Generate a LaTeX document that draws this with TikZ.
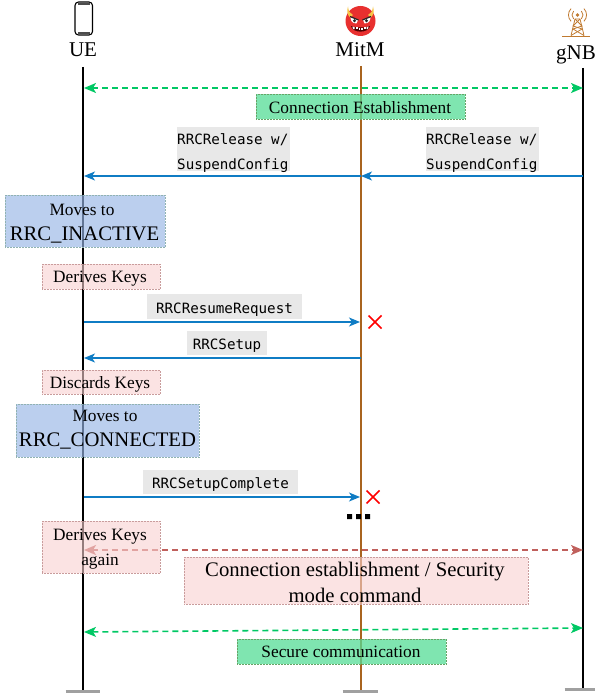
\documentclass[tikz,border=0pt]{standalone}
\usepackage{fontspec}
\setmainfont{Liberation Serif}
\setmonofont{DejaVu Sans Mono}
\usetikzlibrary{arrows.meta}
\definecolor{lifebrown}{HTML}{A9641F}
\definecolor{arrowblue}{HTML}{0F7CC4}
\definecolor{dashgreen}{HTML}{00C864}
\definecolor{dashred}{HTML}{C0605C}
\definecolor{footgray}{HTML}{A0A0A0}
\definecolor{labelgray}{HTML}{E8E8E8}
\definecolor{towerbrown}{HTML}{C07A30}
\definecolor{devilred}{HTML}{E8302F}
\definecolor{hornyellow}{HTML}{F6C445}
\definecolor{greenfill}{HTML}{54DC96}
\definecolor{pinkfill}{HTML}{F8D0D0}
\definecolor{bluefill}{HTML}{96B5E5}
\tikzset{
  x=1pt,y=-1pt,
  lifeline/.style={line width=1.8pt,black},
  foot/.style={line width=3pt,footgray},
  msg/.style={line width=1.6pt,arrowblue,-{Stealth[length=11pt,width=9pt,inset=3pt]}},
  dashboth/.style={line width=1.6pt,dash pattern=on 6pt off 4pt,{Stealth[length=12pt,width=10pt,inset=3pt]}-{Stealth[length=12pt,width=10pt,inset=3pt]}},
  actor/.style={font=\fontsize{21}{24}\selectfont,inner sep=0pt},
  boxbase/.style={draw,densely dotted,line width=.5pt,inner sep=0pt,anchor=north west,align=center},
  midtext/.style={font=\fontsize{17.3}{20}\selectfont,inner sep=0pt},
  bigtext/.style={font=\fontsize{20.7}{25.5}\selectfont,inner sep=0pt,align=center},
  greenbox/.style={boxbase,draw=green!40!black!60,fill=greenfill,fill opacity=.75,text opacity=1,font=\fontsize{17.3}{20}\selectfont},
  pinkbox/.style={boxbase,draw=red!30!gray!60,fill=pinkfill,fill opacity=.6,text opacity=1,font=\fontsize{17.3}{20}\selectfont},
  bluebox/.style={boxbase,draw=teal!45!gray!60,fill=bluefill,fill opacity=.65,text opacity=1},
  codelabel/.style={fill=labelgray,inner sep=0pt,font=\ttfamily\fontsize{14.2}{26}\selectfont},
  cross/.style={red,line width=1.6pt},
}
\begin{document}
\begin{tikzpicture}
\useasboundingbox (0,0) rectangle (595,695);
% named anchor points
\coordinate (ueTop) at (83,67);   \coordinate (ueEnd) at (83,690);
\coordinate (miTop) at (361,66);  \coordinate (miEnd) at (361,690);
\coordinate (gnTop) at (583,68);  \coordinate (gnEnd) at (583,688);
\coordinate (ueA) at (84,88);  \coordinate (gnA) at (583,88);
\coordinate (gnB) at (583,176);\coordinate (miB) at (361,176);\coordinate (ueB) at (84,176);
\coordinate (ueC) at (84,322); \coordinate (miC) at (360,322);
\coordinate (miD) at (361,358);\coordinate (ueD) at (84,358);
\coordinate (ueE) at (84,497); \coordinate (miE) at (360,497);
\coordinate (ueF) at (84,550);\coordinate (gnF) at (583,550);
\coordinate (ueG) at (84,632); \coordinate (gnG) at (583,628);
% lifelines
\draw[lifeline] (ueTop) -- (ueEnd);
\draw[lifeline] (gnTop) -- (gnEnd);
\draw[lifeline,lifebrown] (miTop) -- (miEnd);
\draw[foot] (65.5,691.5) -- (100,691.5);
\draw[foot] (342.5,691.5) -- (377.5,691.5);
\draw[foot] (564.5,689.5) -- (595,689.5);
% phone icon
\draw[line width=1.1pt,black,rounded corners=3.5pt] (75,2) rectangle (92.5,35);
\draw[line width=1.1pt,black!70] (78,4) -- (89.5,4) (78,33) -- (89.5,33);
% devil icon
\fill[devilred] (360.5,21) circle (15);
\fill[hornyellow] (348,6.5) .. controls (348.5,11) and (350,14) .. (353,15) -- (350,17.5) .. controls (347.5,15) and (346.5,11) .. (348,6.5) -- cycle;
\fill[hornyellow] (373,6.5) .. controls (372.5,11) and (371,14) .. (368,15) -- (371,17.5) .. controls (373.5,15) and (374.5,11) .. (373,6.5) -- cycle;
\fill[white] (350.5,17) -- (358,20) -- (356.5,23.5) .. controls (352.5,23.5) and (350.5,21) .. (350.5,17) -- cycle;
\fill[white] (370.5,17) -- (363,20) -- (364.5,23.5) .. controls (368.5,23.5) and (370.5,21) .. (370.5,17) -- cycle;
\draw[black!85,line width=1.2pt] (350,16.5) -- (358.5,20) (371,16.5) -- (362.5,20);
\fill[black!85] (354.5,20.8) circle (1.6) (366.5,20.8) circle (1.6);
\fill[red!30!black] (351,26) .. controls (355,28) and (366,28) .. (370,26) .. controls (368.5,33.5) and (352.5,33.5) .. (351,26) -- cycle;
\fill[white] (352.5,26.6) -- (354.5,27.2) -- (354.5,29.2) -- (353,29.2) -- cycle;
\fill[white] (355.5,27.4) rectangle (357.5,29.4);
\fill[white] (358.5,27.6) rectangle (360,29.6);
\fill[white] (361,27.6) rectangle (362.5,29.6);
\fill[white] (363.5,27.4) rectangle (365.5,29.4);
\fill[white] (366.5,27.2) -- (368.5,26.6) -- (368,29.2) -- (366.5,29.2) -- cycle;
% tower icon
\begin{scope}[towerbrown,line width=.8pt]
\draw[line width=1.2pt] (562,36.5) -- (590,36.5);
\draw (571,35.5) -- (575,19) -- (580,19) -- (584,35.5);
\draw (575,19) -- (582,26) -- (573,29) -- (584,35.5);
\draw (580,19) -- (573,26) -- (582,29) -- (571,35.5);
\fill (577.5,15) circle (1.8);
\draw (573.6,11.1) arc (225:135:5.5);
\draw (581.4,11.1) arc (-45:45:5.5);
\draw (571.1,8.6) arc (225:135:9);
\draw (583.9,8.6) arc (-45:45:9);
\end{scope}
% actor labels
\node[actor] (ue) at (83,50) {UE};
\node[actor] (mitm) at (360,50) {MitM};
\node[actor] (gnb) at (576,55) {gNB};
% arrows
\draw[dashboth,dashgreen] (ueA) -- (gnA);
\draw[msg] (gnB) -- (miB);
\draw[msg] (miB) -- (ueB);
\draw[msg] (ueC) -- (miC);
\draw[msg] (miD) -- (ueD);
\draw[msg] (ueE) -- (miE);
\draw[dashboth,dashred] (ueF) -- (gnF);
\draw[dashboth,dashgreen] (ueG) -- (gnG);
% mono labels
\fill[labelgray] (177,127) rectangle (290,171);
\fill[labelgray] (426,127) rectangle (539,171);
\node[codelabel,fill=none,anchor=west] (relL1) at (177,139.5) {RRCRelease w/};
\node[codelabel,fill=none,anchor=west] (relL2) at (177,166) {SuspendConfig};
\node[codelabel,fill=none,anchor=west] (relR1) at (426,139.5) {RRCRelease w/};
\node[codelabel,fill=none,anchor=west] (relR2) at (426,166) {SuspendConfig};
\node[codelabel,minimum width=155pt,minimum height=25pt,text depth=2pt,text height=15pt] (resume) at (224.5,306.5) {RRCResumeRequest};
\node[codelabel,minimum width=80pt,minimum height=24pt,text depth=2pt,text height=15pt] (setup) at (227,343) {RRCSetup};
\node[codelabel,minimum width=155pt,minimum height=24pt,text depth=2pt,text height=15pt] (complete) at (220.5,482) {RRCSetupComplete};
% boxes
\node[greenbox,minimum width=209pt,minimum height=25pt] (ce) at (256,94) {};
\node[midtext] (cet) at (360,107.5) {Connection Establishment};
\node[bluebox,minimum width=160pt,minimum height=52pt] (mv1) at (5,195) {};
\node[midtext] (mv1a) at (82,210) {Moves to};
\node[bigtext] (mv1b) at (84.5,235) {RRC\_INACTIVE};
\node[pinkbox,minimum width=118pt,minimum height=25pt] (dk1) at (42,264) {};
\node[midtext] (dk1t) at (100,279) {Derives Keys};
\node[pinkbox,minimum width=118pt,minimum height=24pt] (dis) at (42,370) {};
\node[midtext] (dist) at (100,384.5) {Discards Keys};
\node[bluebox,minimum width=183pt,minimum height=53pt] (mv2) at (16,404) {};
\node[midtext] (mv2a) at (105,416) {Moves to};
\node[bigtext] (mv2b) at (107.5,441) {RRC\_CONNECTED};
\node[pinkbox,minimum width=118pt,minimum height=52pt] (dk2) at (42,521) {};
\node[midtext] (dk2a) at (100,537) {Derives Keys};
\node[midtext] (dk2b) at (100,562) {again};
\node[pinkbox,minimum width=344pt,minimum height=47pt] (cm) at (184,557) {};
\node[bigtext] (cmt) at (355,582.5) {Connection establishment / Security\\mode command};
\node[greenbox,minimum width=209pt,minimum height=25pt] (sc) at (237,639) {};
\node[midtext] (sct) at (341,652) {Secure communication};
% red crosses
\coordinate (x1) at (375,322); \coordinate (x2) at (373,497);
\draw[cross] ([shift={(-6.5,-6.5)}]x1) -- ([shift={(6.5,6.5)}]x1) ([shift={(6.5,-6.5)}]x1) -- ([shift={(-6.5,6.5)}]x1);
\draw[cross] ([shift={(-6.5,-6.5)}]x2) -- ([shift={(6.5,6.5)}]x2) ([shift={(6.5,-6.5)}]x2) -- ([shift={(-6.5,6.5)}]x2);
% ellipsis
\fill[black] (347,514) rectangle (352,519) (356,514) rectangle (361,519) (365,514) rectangle (370,519);
\end{tikzpicture}
\end{document}
